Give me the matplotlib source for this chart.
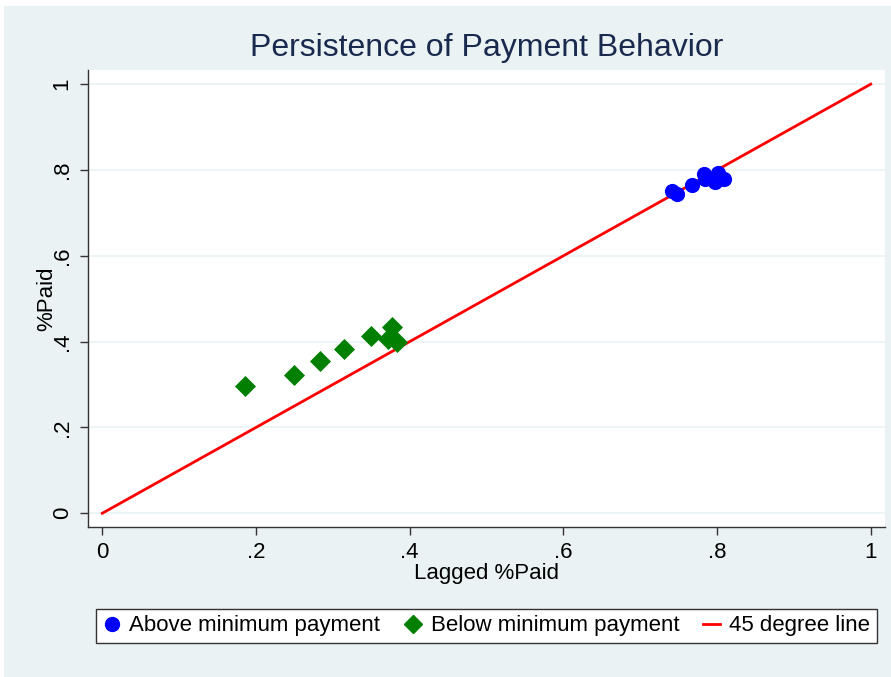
import matplotlib
matplotlib.use("Agg")
import matplotlib.pyplot as plt
from matplotlib.patches import Rectangle
from matplotlib.lines import Line2D

plt.rcParams['font.family'] = ['Liberation Sans', 'DejaVu Sans']

# Above minimum payment (lagged %paid, %paid)
above_x = [0.741, 0.748, 0.767, 0.783, 0.784, 0.798, 0.801, 0.809, 0.794]
above_y = [0.752, 0.743, 0.764, 0.790, 0.778, 0.773, 0.792, 0.780, 0.778]

# Below minimum payment
below_x = [0.186, 0.250, 0.283, 0.315, 0.350, 0.377, 0.372, 0.383]
below_y = [0.296, 0.322, 0.354, 0.382, 0.414, 0.434, 0.407, 0.400]

ticks = [0, 0.2, 0.4, 0.6, 0.8, 1]
tick_labels = ["0", ".2", ".4", ".6", ".8", "1"]

bg = "#eaf2f3"
W, H = 891, 677
fig = plt.figure(figsize=(W / 100, H / 100), dpi=100, facecolor="white")
fig.patches.append(Rectangle((4 / W, 0), 1, 1 - 6 / H, transform=fig.transFigure,
                             facecolor=bg, edgecolor="none", zorder=-10))

ax = fig.add_axes([88 / W, 1 - 527 / H, (885 - 88) / W, (527 - 70) / H])
ax.set_facecolor("white")

ax.plot([0, 1], [0, 1], color="#ff0000", lw=2, zorder=2)
ax.scatter(above_x, above_y, s=120, marker="o", color="#0000ff", zorder=3, linewidths=0)
ax.scatter(below_x, below_y, s=115, marker="D", color="#007f00", zorder=3, linewidths=0)

ax.set_xlim(-0.0186, 1.0186)
ax.set_ylim(-0.032, 1.033)
ax.set_xticks(ticks)
ax.set_xticklabels(tick_labels)
ax.set_yticks(ticks)
ax.set_yticklabels(tick_labels, rotation=90, va="center")
ax.tick_params(labelsize=16, length=6, width=1, color="#333333", pad=5)
ax.yaxis.grid(True, color=bg, lw=1.2, zorder=0)
ax.set_axisbelow(True)
for s in ["top", "right"]:
    ax.spines[s].set_visible(False)
for s in ["left", "bottom"]:
    ax.spines[s].set_color("#333333")
    ax.spines[s].set_linewidth(1)

ax.set_xlabel("Lagged %Paid", fontsize=16, labelpad=0)
ax.set_ylabel("%Paid", fontsize=16, labelpad=-4)
fig.suptitle("Persistence of Payment Behavior", fontsize=23, color="#1a2a4f",
             x=(250 + 723) / 2 / W, y=1 - 48 / H, va="center")

handles = [
    Line2D([], [], marker="o", color="#0000ff", ls="none", markersize=10),
    Line2D([], [], marker="D", color="#007f00", ls="none", markersize=9),
    Line2D([], [], color="#ff0000", lw=2),
]
labels = ["Above minimum payment", "Below minimum payment", "45 degree line"]
leg = fig.legend(handles, labels, ncol=3, fontsize=16,
                 bbox_to_anchor=(96 / W, 1 - 647 / H, (877 - 96) / W, (647 - 605) / H),
                 loc="center", mode="expand", fancybox=False, framealpha=1,
                 edgecolor="#333333", handlelength=0.8, handletextpad=0.4,
                 columnspacing=0.1, borderaxespad=0, borderpad=0.3)
leg.get_frame().set_linewidth(1)

fig.savefig("out.png", dpi=100, facecolor=fig.get_facecolor())
